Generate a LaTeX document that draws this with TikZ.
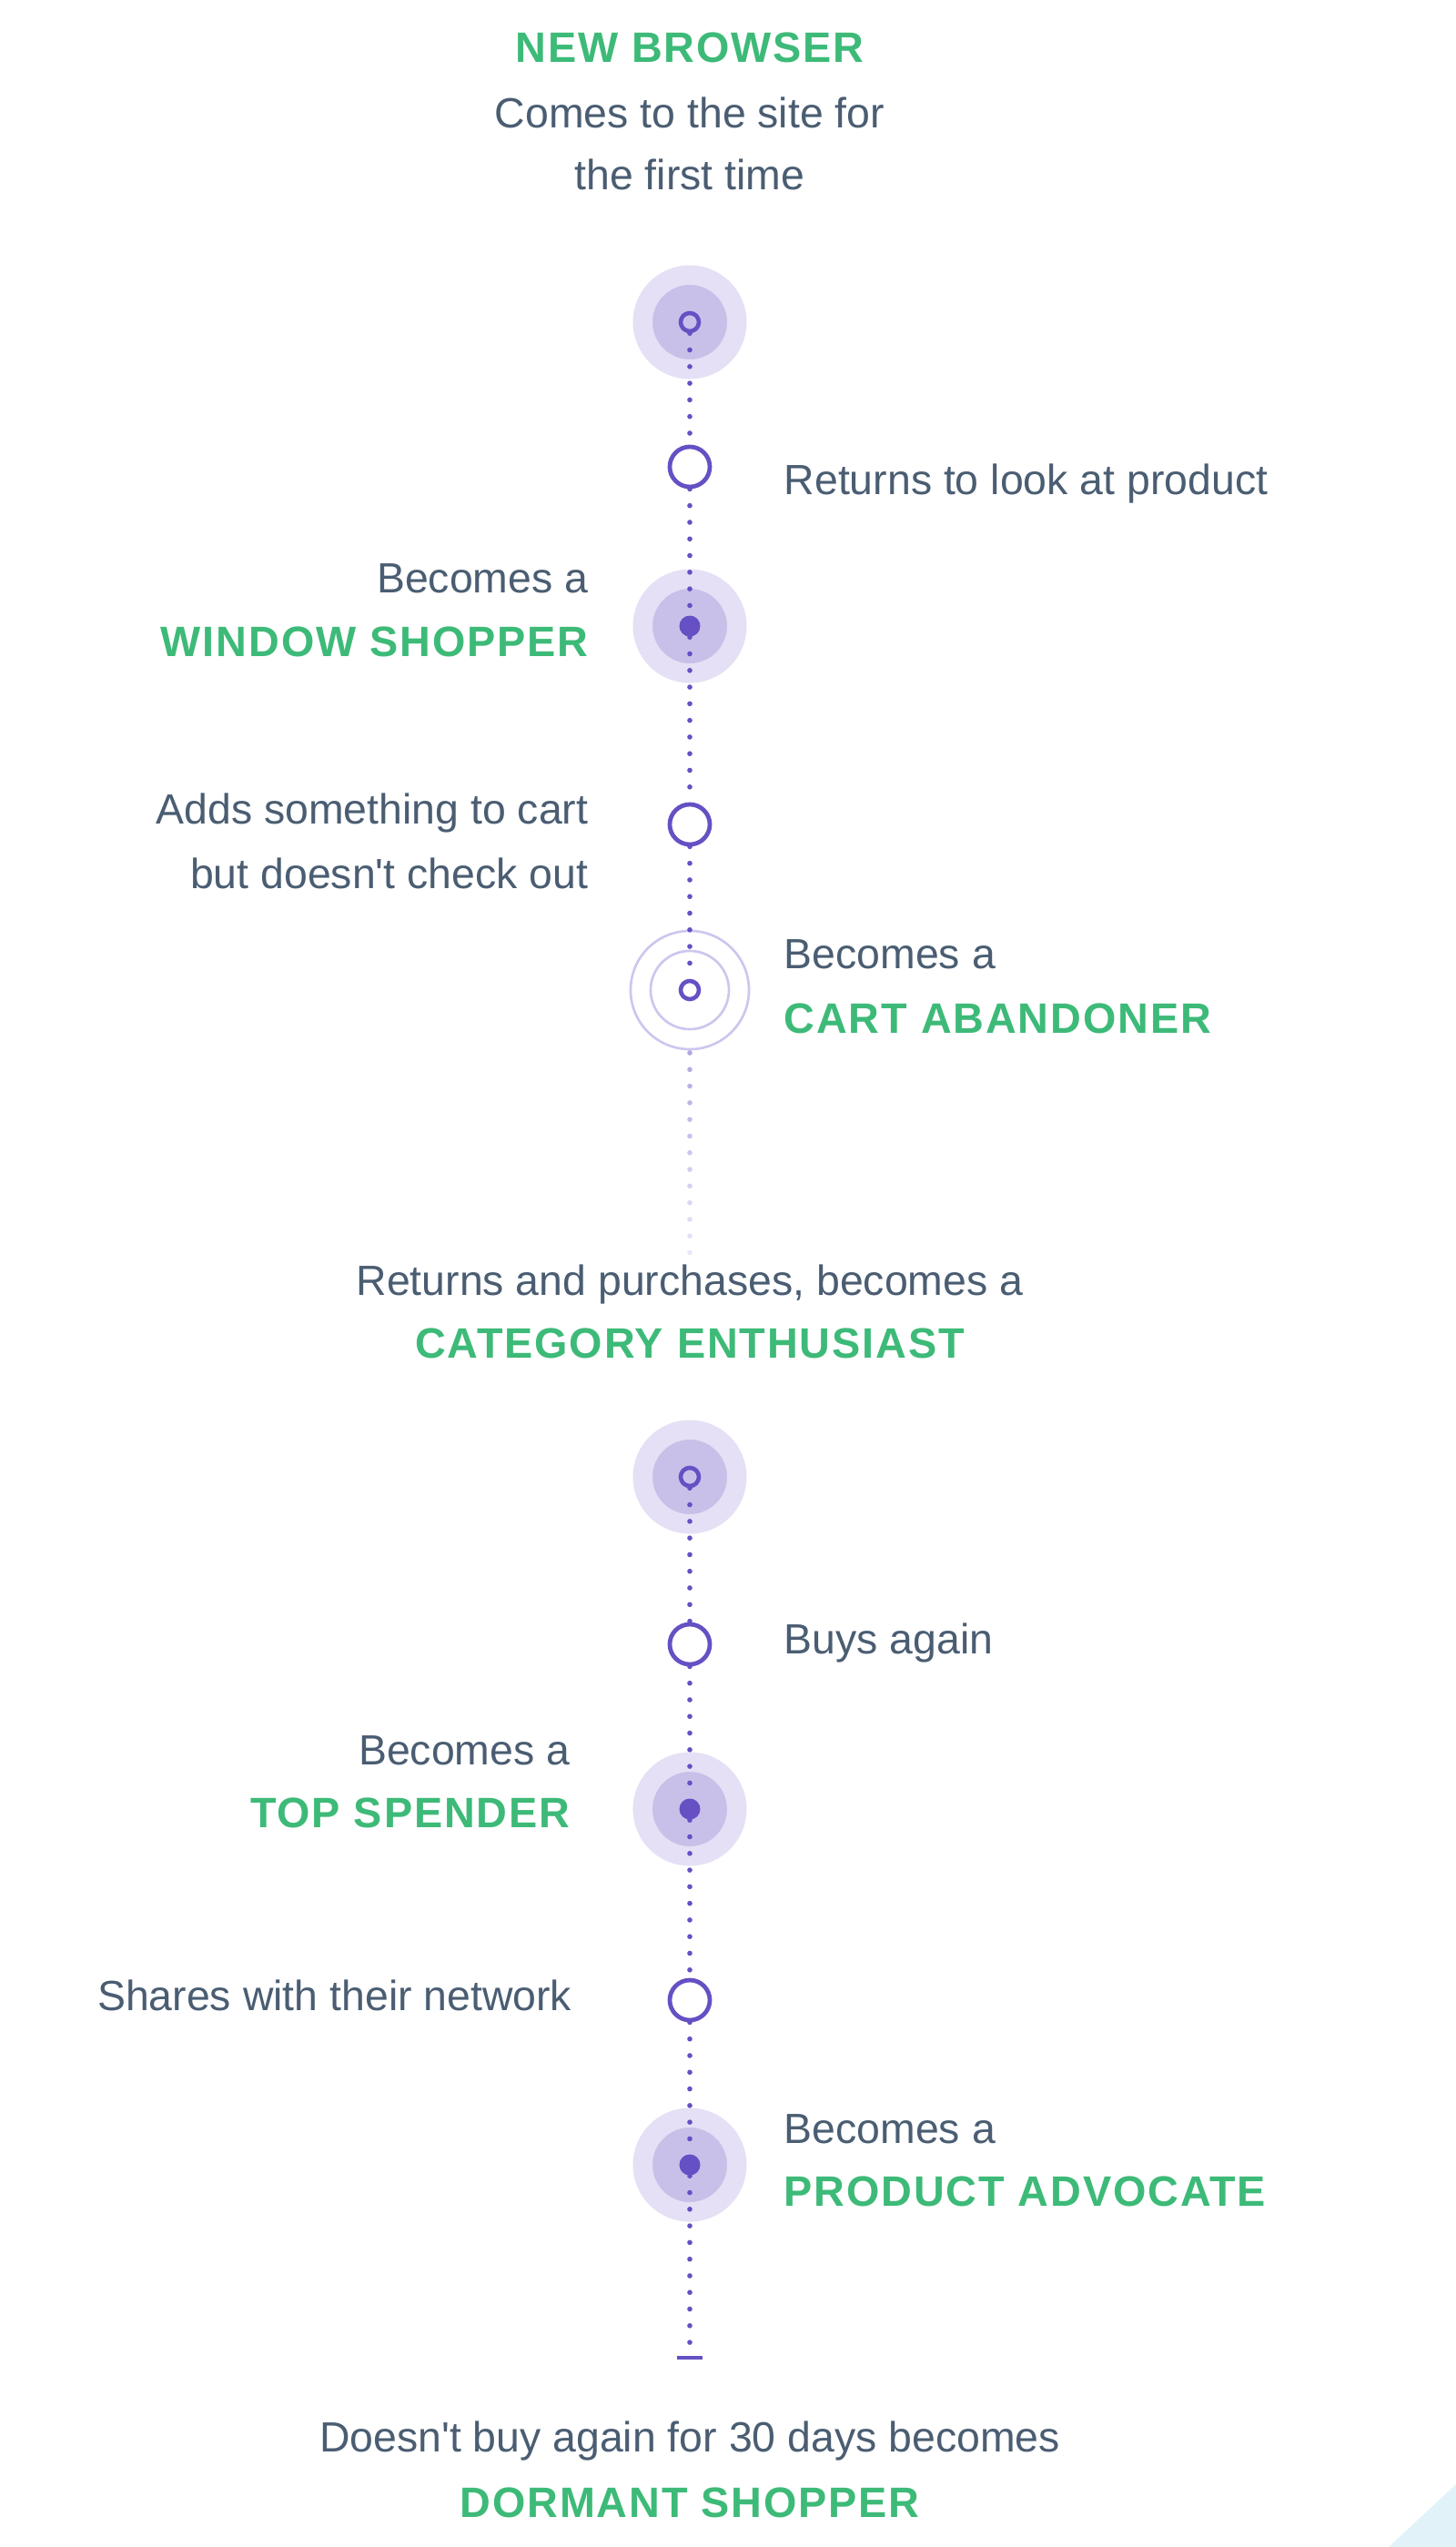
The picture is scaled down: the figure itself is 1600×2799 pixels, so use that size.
\documentclass[tikz,border=0pt]{standalone}
\usepackage{fontspec}
\setmainfont{Liberation Sans}
\newfontfamily\capsfont[LetterSpace=4]{Liberation Sans}
\usepackage{tikz}

\definecolor{haloout}{HTML}{E5E0F5}
\definecolor{haloin}{HTML}{C9C0E9}
\definecolor{dotpurple}{HTML}{6650C4}
\definecolor{wavepurple}{HTML}{CDC6EE}
\definecolor{tagreen}{HTML}{3DBA78}
\definecolor{textgray}{HTML}{4A5D72}
\definecolor{cornerblue}{HTML}{E1F3F9}

\tikzset{
    halo/.style ={
        circle,                   % 圆形光晕
        minimum size = 1.035cm,   % 直径
        inner sep = 0pt,
        fill = haloin,            % 内圈颜色
        draw = haloout,           % 外圈颜色
        line width = 6.1pt
    },
    wave/.style ={
        circle,                   % 空心波纹
        inner sep = 0pt,
        draw = wavepurple,
        line width = 0.75pt
    },
    ring/.style ={
        circle,                   % 小圆环
        minimum size = 0.44cm,
        inner sep = 0pt,
        fill = white,
        draw = dotpurple,
        line width = 1.35pt
    },
    hole/.style ={
        circle,                   % 中心空心点
        minimum size = 0.2cm,
        inner sep = 0pt,
        draw = dotpurple,
        line width = 1.3pt
    },
    fulldot/.style ={
        circle,                   % 中心实心点
        minimum size = 0.23cm,
        inner sep = 0pt,
        fill = dotpurple
    },
    endbar/.style ={
        rectangle,                % 末端短横
        minimum width = 0.27cm,
        minimum height = 0.045cm,
        inner sep = 0pt,
        fill = dotpurple
    },
    dotline/.style ={
        dotpurple,                % 点线
        line width = 1.6pt,
        line cap = round,
        dash pattern = on 0pt off 5.2pt
    },
    desctext/.style ={
        inner sep = 0pt,          % 说明文字
        text = textgray,
        font = \fontsize{13.2pt}{19.5pt}\selectfont
    },
    tagtext/.style ={
        inner sep = 0pt,          % 绿色标题
        text = tagreen,
        font = \capsfont\bfseries\fontsize{13.3pt}{19.5pt}\selectfont
    }
}

\begin{document}
\begin{tikzpicture}[x=0.01cm, y=-0.01cm]
    \fill[white] (0,0) rectangle (1600,2799);
    \useasboundingbox (0,0) rectangle (1600,2799);
    \fill[cornerblue] (1526,2799) -- (1600,2730) -- (1600,2799) -- cycle;

    \node[halo] (h1) at(758,354) {};
    \node[halo] (h3) at(758,688) {};
    \node[wave, minimum size=1.30cm] (w5) at(758,1088) {};
    \node[wave, minimum size=0.86cm] (v5) at(758,1088) {};
    \node[halo] (h6) at(758,1623) {};
    \node[halo] (h8) at(758,1988) {};
    \node[halo] (h10) at(758,2379) {};

    \node[hole] (1) at(758,354) {};
    \node[ring] (2) at(758,513) {};
    \node[fulldot] (3) at(758,688) {};
    \node[ring] (4) at(758,906) {};
    \node[hole] (5) at(758,1088) {};
    \node[hole] (6) at(758,1623) {};
    \node[ring] (7) at(758,1807) {};
    \node[fulldot] (8) at(758,1988) {};
    \node[ring] (9) at(758,2198) {};
    \node[fulldot] (10) at(758,2379) {};
    \node[endbar] (11) at(758,2591) {};

    \draw[dotline] (1) -- (2);
    \draw[dotline] (2) -- (3);
    \draw[dotline] (3) -- (4);
    \draw[dotline] (4) -- (5);
    \foreach \i [evaluate=\i as \op using {0.5-0.03*\i}] in {0,...,12}
        \fill[dotpurple, opacity=\op] (758,{1157+18.3*\i}) circle (0.8pt);
    \draw[dotline] (6) -- (7);
    \draw[dotline] (7) -- (8);
    \draw[dotline] (8) -- (9);
    \draw[dotline] (9) -- (10);
    \draw[dotline] (10) -- (11);

    \node[tagtext, anchor=base] (t1) at(758,68) {NEW BROWSER};
    \node[desctext, anchor=base] (t1a) at(758,140) {Comes to the site for};
    \node[desctext, anchor=base] (t1b) at(758,208) {the first time};
    \node[desctext, anchor=base west] (t2) at(861,543) {Returns to look at product};
    \node[desctext, anchor=base east] (t3a) at(647,651) {Becomes a};
    \node[tagtext, anchor=base east] (t3) at(647,721) {WINDOW SHOPPER};
    \node[desctext, anchor=base east] (t4a) at(647,905) {Adds something to cart};
    \node[desctext, anchor=base east] (t4b) at(647,976) {but doesn\textquotesingle t check out};
    \node[desctext, anchor=base west] (t5a) at(861,1064) {Becomes a};
    \node[tagtext, anchor=base west] (t5) at(861,1135) {CART ABANDONER};
    \node[desctext, anchor=base] (t6a) at(758,1423) {Returns and purchases, becomes a};
    \node[tagtext, anchor=base] (t6) at(758,1492) {CATEGORY ENTHUSIAST};
    \node[desctext, anchor=base west] (t7) at(861,1817) {Buys again};
    \node[desctext, anchor=base east] (t8a) at(627,1939) {Becomes a};
    \node[tagtext, anchor=base east] (t8) at(627,2008) {TOP SPENDER};
    \node[desctext, anchor=base east] (t9) at(629,2209) {Shares with their network};
    \node[desctext, anchor=base west] (t10a) at(861,2355) {Becomes a};
    \node[tagtext, anchor=base west] (t10) at(861,2424) {PRODUCT ADVOCATE};
    \node[desctext, anchor=base] (t11a) at(758,2694) {Doesn\textquotesingle t buy again for 30 days becomes};
    \node[tagtext, anchor=base] (t11) at(758,2766) {DORMANT SHOPPER};
\end{tikzpicture}
\end{document}
